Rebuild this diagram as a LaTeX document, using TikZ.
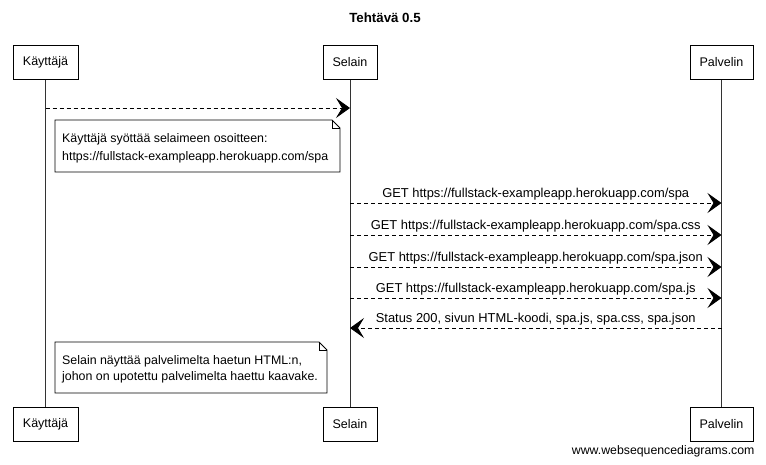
\documentclass[tikz,border=0pt]{standalone}
\usepackage{fontspec}
\setmainfont{Liberation Sans}
\usetikzlibrary{arrows.meta}
\tikzset{
  actor/.style = {draw=black, fill=white, line width=0.8pt, inner sep=0pt,
    minimum width=54pt, minimum height=34pt, font=\fontsize{12.5}{14}\selectfont},
  lifeline/.style = {draw=black!80, line width=0.7pt},
  msg/.style = {draw=black, line width=0.9pt, dash pattern=on 4pt off 3pt,
    -{Stealth[length=14pt, width=20pt, inset=6pt]}},
  msglabel/.style = {font=\fontsize{12.9}{14}\selectfont, inner sep=1pt},
  notetext/.style = {align=left, anchor=north west, inner sep=0pt,
    font=\fontsize{12.4}{18.5}\selectfont},
  notebox/.style = {draw=black, fill=white, line width=0.8pt}
}
\begin{document}
\begin{tikzpicture}[x=1pt, y=-1pt]
  \useasboundingbox (0,0) rectangle (766,464);
  \node [font=\bfseries\fontsize{13.3}{15}\selectfont] (title) at (385,18) {Tehtävä 0.5};
  % osallistujat ylhaalla
  \node [actor, minimum width=65pt] (kt) at (45.5,62.5) {Käyttäjä};
  \node [actor] (st) at (350,62.5) {Selain};
  \node [actor, minimum width=63pt] (pt) at (721.5,62.5) {Palvelin};
  % osallistujat alhaalla
  \node [actor, minimum width=65pt] (kb) at (45.5,424.5) {Käyttäjä};
  \node [actor] (sb) at (350,424.5) {Selain};
  \node [actor, minimum width=63pt] (pb) at (721.5,424.5) {Palvelin};
  \node [font=\fontsize{12.3}{14}\selectfont, anchor=east] (wsd) at (758,451)
    {www.websequencediagrams.com};
  % elamanviivat
  \draw [lifeline] (kt) -- (kb);
  \draw [lifeline] (st) -- (sb);
  \draw [lifeline] (pt) -- (pb);
  % viestit
  \coordinate (k1) at (kt |- 0,108);
  \coordinate (s1) at (st |- 0,108);
  \draw [msg] (k1) -- (s1);
  \foreach \y/\n/\t in {203/1/spa, 235/2/spa.css, 267/3/spa.json, 298/4/spa.js} {
    \coordinate (sg\n) at (st |- 0,\y);
    \coordinate (pg\n) at (pt |- 0,\y);
    \draw [msg] (sg\n) -- node [msglabel, above=1pt] (get\n)
      {GET https://fullstack-exampleapp.herokuapp.com/\t} (pg\n);
  }
  \coordinate (pr) at (pt |- 0,328);
  \coordinate (sr) at (st |- 0,328);
  \draw [msg] (pr) -- node [msglabel, above=1pt] (resp)
    {Status 200, sivun HTML-koodi, spa.js, spa.css, spa.json} (sr);
  % muistiinpanot
  \draw [notebox] (55,120) -- (332,120) -- (340,128) -- (340,172) -- (55,172) -- cycle;
  \draw [line width=0.5pt] (332,120) -- (332,128) -- (340,128);
  \node [notetext] (note1) at (62,133)
    {Käyttäjä syöttää selaimeen osoitteen:\\https://fullstack-exampleapp.herokuapp.com/spa};
  \draw [notebox] (55,342) -- (319,342) -- (327,350) -- (327,393) -- (55,393) -- cycle;
  \draw [line width=0.5pt] (319,342) -- (319,350) -- (327,350);
  \node [notetext, font=\fontsize{12.4}{16}\selectfont] (note2) at (62,355)
    {Selain näyttää palvelimelta haetun HTML:n,\\johon on upotettu palvelimelta haettu kaavake.};
\end{tikzpicture}
\end{document}
